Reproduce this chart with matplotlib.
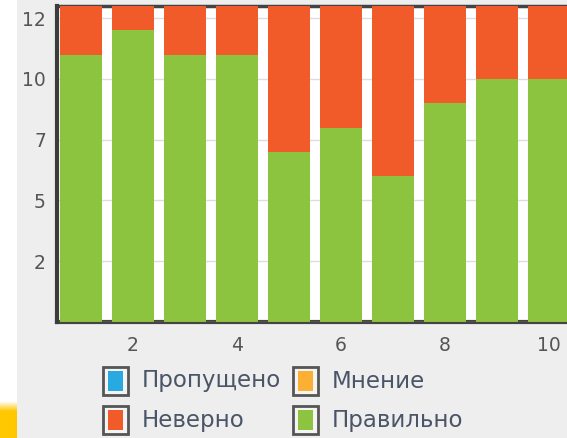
import numpy as np
import matplotlib
matplotlib.use("Agg")
import matplotlib.pyplot as plt
from matplotlib.patches import Rectangle
from matplotlib.colors import LinearSegmentedColormap

# --- données ---
questions = [1, 2, 3, 4, 5, 6, 7, 8, 9, 10]
propuscheno = [0, 0, 0, 0, 0, 0, 0, 0, 0, 0]
mnenie = [0, 0, 0, 0, 0, 0, 0, 0, 0, 0]
neverno = [2, 1, 2, 2, 6, 5, 7, 4, 3, 3]
pravilno = [11, 12, 11, 11, 7, 8, 6, 9, 10, 10]

y_ticks = [2.5, 5, 7.5, 10, 12.5]
y_labels = ["2", "5", "7", "10", "12"]
x_ticks = [2, 4, 6, 8, 10]

legend_labels = ["Пропущено", "Мнение", "Неверно", "Правильно"]
legend_colors = ["#29a9e1", "#fbb034", "#f15a29", "#8dc43f"]

W, H = 567, 438
BG = "#eeeeee"

fig = plt.figure(figsize=(W / 100, H / 100), dpi=100)
fig.patch.set_facecolor(BG)

# bande blanche à gauche + petit dégradé jaune en bas
fig.patches.append(Rectangle((0, 0), 17 / W, 1, transform=fig.transFigure,
                             facecolor="white", edgecolor="none", zorder=-1))
gax = fig.add_axes([0, 0, 17 / W, 38 / H])
gax.set_zorder(1)
cmap = LinearSegmentedColormap.from_list("jaune", ["white", "#ffc800"])
grad = np.clip((np.linspace(0, 38, 76) - 1) / 10.0, 0, 1)
gax.imshow(grad[:, None], aspect="auto", cmap=cmap, vmin=0, vmax=1, origin="upper")
gax.axis("off")

# --- graphique ---
ax = fig.add_axes([57 / W, 1 - 322 / H, 1 - 57 / W, 316 / H])
ax.set_facecolor("white")

x = np.array(questions)
width = 0.8
bottom = np.zeros(len(x))
for vals, col in [(pravilno, legend_colors[3]), (neverno, legend_colors[2]),
                  (mnenie, legend_colors[1]), (propuscheno, legend_colors[0])]:
    ax.bar(x, vals, width=width, bottom=bottom, color=col, zorder=3, linewidth=0)
    bottom += np.array(vals)

ax.set_xlim(0.54, 10.35)
ax.set_ylim(0, 13)

ax.set_yticks(y_ticks)
ax.set_yticklabels(y_labels)
ax.set_xticks(x_ticks)
ax.set_xticklabels([str(t) for t in x_ticks])
ax.tick_params(axis="both", length=0, labelsize=13.5, colors="#555555")
ax.tick_params(axis="y", pad=8)
ax.tick_params(axis="x", pad=10)

ax.grid(axis="y", color="#dddddd", linewidth=1, zorder=0)
ax.set_axisbelow(True)

ax.spines["right"].set_visible(False)
ax.spines["left"].set_color("#3c3c3c")
ax.spines["left"].set_linewidth(3)
ax.spines["left"].set_zorder(4)
ax.spines["top"].set_color("#444444")
ax.spines["top"].set_linewidth(2.5)
ax.spines["top"].set_zorder(2)
ax.spines["bottom"].set_color("#444444")
ax.spines["bottom"].set_linewidth(3)
ax.spines["bottom"].set_zorder(2)
ax.axhline(0, color="#a68a4a", linewidth=1, zorder=4)

# --- légende (manuelle) ---
rows_y = [381, 420]
cols_x = [103, 293]
for i, (lab, col) in enumerate(zip(legend_labels, legend_colors)):
    px = cols_x[i % 2]
    py = rows_y[i // 2]
    fig.patches.append(Rectangle((px / W, 1 - (py + 14) / H), 25 / W, 28 / H,
                                 transform=fig.transFigure, facecolor="#f4f4f4",
                                 edgecolor="#555555", linewidth=2))
    fig.patches.append(Rectangle(((px + 5) / W, 1 - (py + 10) / H), 15 / W, 20 / H,
                                 transform=fig.transFigure, facecolor=col,
                                 edgecolor="none"))
    fig.text((px + 39) / W, 1 - py / H, lab, fontsize=16.5, color="#4a5568",
             va="center", ha="left")

fig.savefig("out.png", dpi=100, facecolor=fig.get_facecolor())
